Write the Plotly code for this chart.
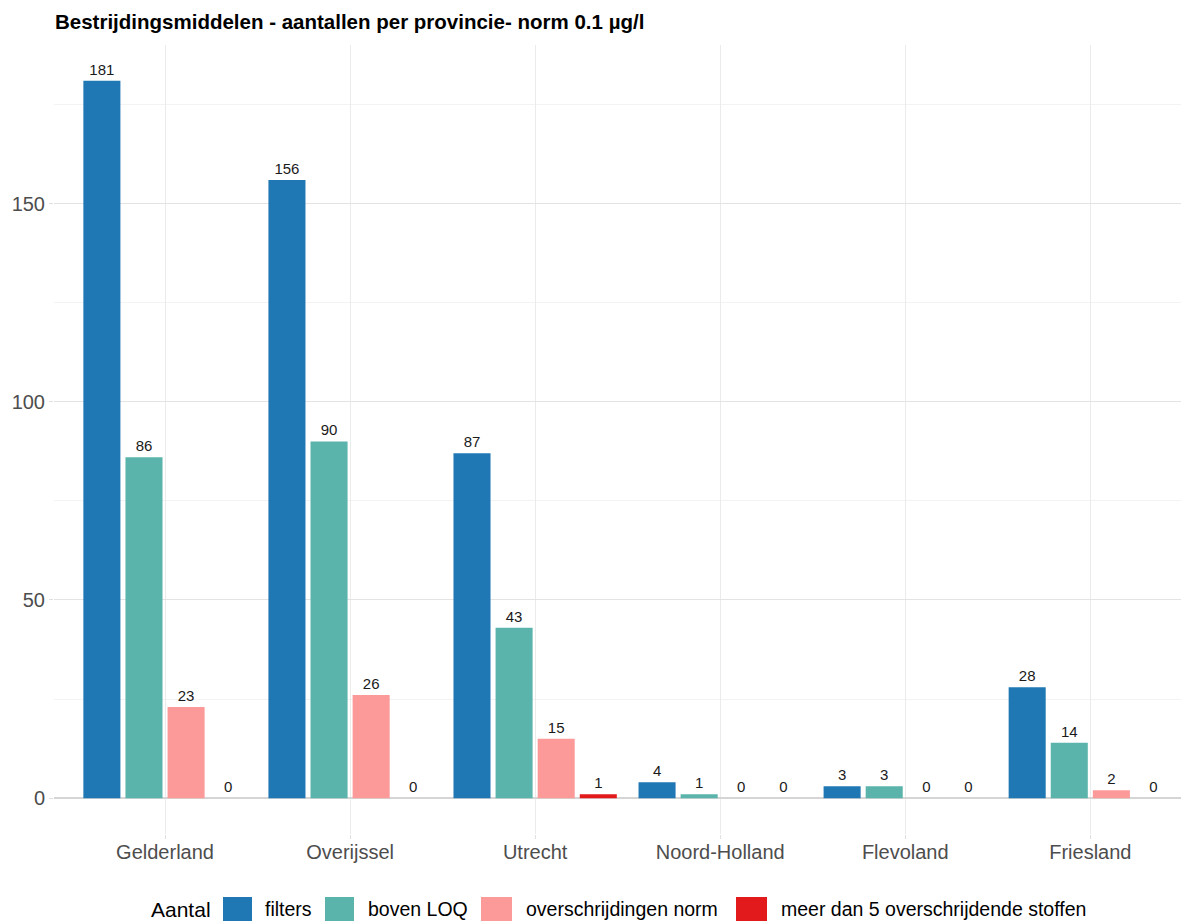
import plotly.graph_objects as go

provinces = ["Gelderland", "Overijssel", "Utrecht", "Noord-Holland", "Flevoland", "Friesland"]
filters = [181, 156, 87, 4, 3, 28]
boven_loq = [86, 90, 43, 1, 3, 14]
overschrijdingen = [23, 26, 15, 0, 0, 2]
meer_dan_5 = [0, 0, 1, 0, 0, 0]

series_names = ["filters", "boven LOQ", "overschrijdingen norm", "meer dan 5 overschrijdende stoffen"]
series_values = [filters, boven_loq, overschrijdingen, meer_dan_5]
series_colors = ["#1F77B4", "#5AB4AC", "#FB9A99", "#E31A1C"]

W, H = 1181, 921
ML, MR, MT, MB = 54, 0, 45, 87
PW, PH = W - ML - MR, H - MT - MB
FONT = "Liberation Sans, Arial, Helvetica"


def px_x(p):
    return (p - ML) / PW


def px_y(p):
    return (H - MB - p) / PH


fig = go.Figure()
for name, vals, col in zip(series_names, series_values, series_colors):
    fig.add_trace(go.Bar(
        x=provinces, y=vals, name=name, marker_color=col, marker_line_width=0,
        text=[str(v) for v in vals], textposition="outside",
        textfont=dict(size=15, color="#1A1A1A", family=FONT),
        cliponaxis=False, showlegend=False,
    ))

# manual legend (ggplot-style large keys)
legend_keys = [(223, 252, 263), (325, 354, 366), (481, 512, 524), (736, 767, 779)]
shapes = []
annotations = [dict(text="Aantal", x=px_x(149), y=px_y(909), xref="paper", yref="paper",
                    xanchor="left", yanchor="middle", showarrow=False,
                    font=dict(size=21, color="black", family=FONT))]
for (k0, k1, tx), name, col in zip(legend_keys, series_names, series_colors):
    shapes.append(dict(type="rect", xref="paper", yref="paper",
                       x0=px_x(k0), x1=px_x(k1), y0=px_y(925), y1=px_y(897),
                       fillcolor=col, line=dict(width=0), layer="above"))
    annotations.append(dict(text=name, x=px_x(tx), y=px_y(909), xref="paper", yref="paper",
                            xanchor="left", yanchor="middle", showarrow=False,
                            font=dict(size=19.5, color="black", family=FONT)))

fig.update_layout(
    width=W, height=H,
    paper_bgcolor="white", plot_bgcolor="white",
    barmode="group", bargap=0.09, bargroupgap=0.12,
    margin=dict(l=ML, r=MR, t=MT, b=MB),
    font=dict(family=FONT, size=16, color="black"),
    title=dict(text="<b>Bestrijdingsmiddelen - aantallen per provincie- norm 0.1 µg/l</b>",
               x=55 / W, xanchor="left", y=1 - 22 / H, yanchor="middle",
               font=dict(size=20.5, color="black", family=FONT)),
    showlegend=False,
    shapes=shapes,
    annotations=annotations,
)
fig.update_xaxes(
    range=[-0.6, 5.49], showgrid=True, gridcolor="#EBEBEB", gridwidth=1,
    ticks="outside", ticklen=4, tickcolor="#E0E0E0", ticklabelstandoff=-4,
    tickfont=dict(size=20, color="#4D4D4D", family=FONT), showline=False, zeroline=False,
    automargin=False,
)
fig.update_yaxes(
    range=[-9.05, 190.05], tickvals=[0, 50, 100, 150],
    showgrid=True, gridcolor="#E3E3E3", gridwidth=1,
    minor=dict(tickvals=[25, 75, 125, 175], showgrid=True, gridcolor="#F3F3F3", gridwidth=1),
    ticks="outside", ticklen=4, tickcolor="#E0E0E0",
    tickfont=dict(size=20, color="#4D4D4D", family=FONT),
    zeroline=True, zerolinecolor="#D5D5D5", zerolinewidth=1.5,
    automargin=False,
)

fig.write_html(
    "out.html",
    config={"displayModeBar": False},
    post_script="document.body.style.margin='0';document.body.style.overflow='hidden';",
)
